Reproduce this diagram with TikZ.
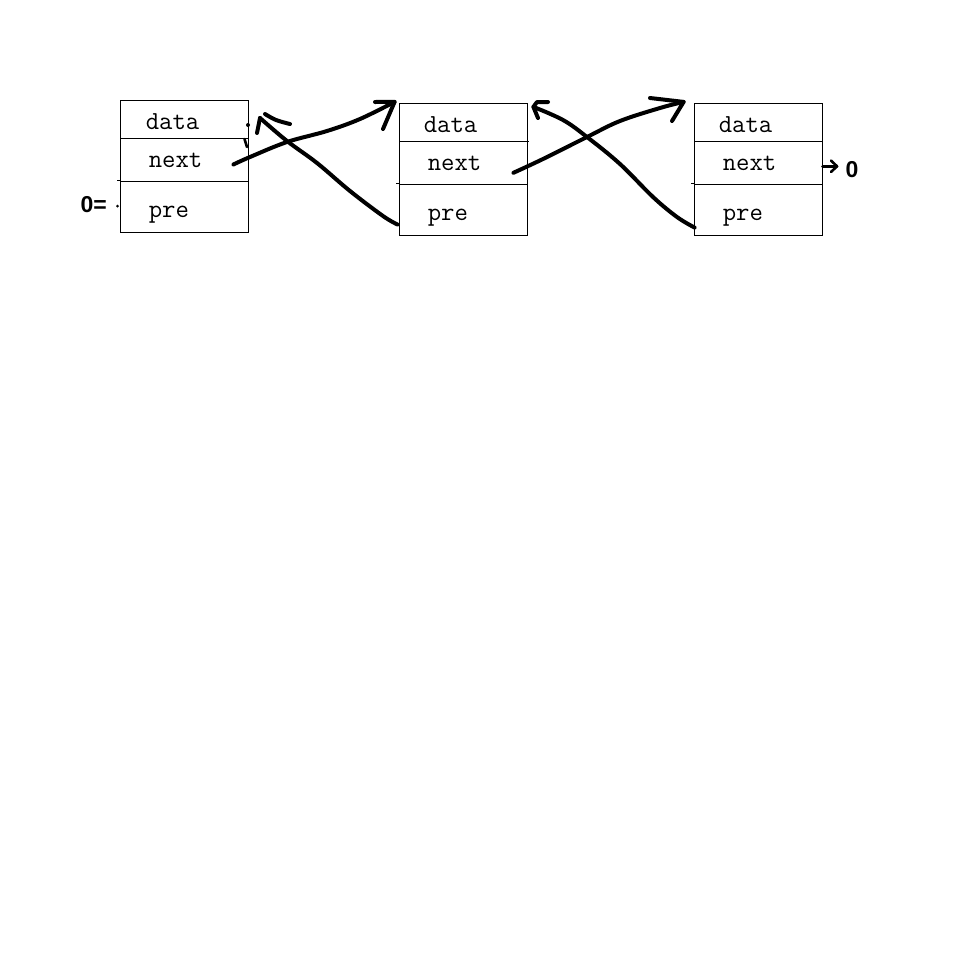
\documentclass[tikz,border=0pt]{standalone}
\usepackage{fontspec}
\newfontfamily\handfont{Liberation Sans}
\usetikzlibrary{calc}
\begin{document}
\begin{tikzpicture}[x=1pt,y=-1pt,
  cell/.style={draw, line width=0.8pt, minimum width=128pt, inner sep=0pt},
  lbl/.style={anchor=base west, inner sep=0pt, font=\ttfamily\fontsize{26}{26}\selectfont},
  hand/.style={line width=4pt, line cap=round, line join=round},
  thinhand/.style={line width=2.6pt, line cap=round, line join=round},
  handtext/.style={anchor=base west, inner sep=0pt, font=\handfont\bfseries\fontsize{23}{23}\selectfont}]
\fill[white] (0,0) rectangle (962,962);
\useasboundingbox (0,0) rectangle (962,962);

% node 1
\node[cell, minimum height=38pt] (d1) at (184,119) {};
\node[cell, minimum height=43pt] (n1) at (184,159.5) {};
\node[cell, minimum height=51pt] (p1) at (184,206.5) {};
% node 2
\node[cell, minimum height=38pt] (d2) at (463,122.3) {};
\node[cell, minimum height=43pt] (n2) at (463,162.8) {};
\node[cell, minimum height=51pt] (p2) at (463,209.65) {};
% node 3
\node[cell, minimum height=38pt] (d3) at (758,122.3) {};
\node[cell, minimum height=43pt] (n3) at (758,162.8) {};
\node[cell, minimum height=51pt] (p3) at (758,209.65) {};

% divider overhangs
\draw[line width=0.8pt] (p1.north west) -- ++(-3,0);
\draw[line width=0.8pt] (p2.north west) -- ++(-3,0);
\draw[line width=0.8pt] (n2.north east) -- ++(2,0);
\draw[line width=0.8pt] (p3.north west) -- ++(-3,0);

% labels
\node[lbl] (t1d) at ($(d1.north west)+(26,30)$) {data};
\node[lbl] (t1n) at ($(n1.north west)+(29,30)$) {next};
\node[lbl] (t1p) at ($(p1.north west)+(29,37)$) {pre};
\node[lbl] (t2d) at ($(d2.north west)+(25,30)$) {data};
\node[lbl] (t2n) at ($(n2.north west)+(29,30)$) {next};
\node[lbl] (t2p) at ($(p2.north west)+(29,37)$) {pre};
\node[lbl] (t3d) at ($(d3.north west)+(25,30)$) {data};
\node[lbl] (t3n) at ($(n3.north west)+(29,30)$) {next};
\node[lbl] (t3p) at ($(p3.north west)+(29,37)$) {pre};

% arrow 1: next of node 1 -> node 2
\coordinate (a1s) at ($(n1.east)+(-15,5)$);
\coordinate (a1e) at ($(d2.north west)+(-4,-1)$);
\draw[hand] plot[smooth, tension=0.6] coordinates {(a1s) (250,157) (287,142) (327,131) (360,119) (a1e)};
\draw[hand] (375,102) -- (a1e) -- (383,129);

% arrow 2: pre of node 2 -> node 1
\coordinate (a2s) at ($(p2.south west)+(-1,-11)$);
\coordinate (a2e) at (260,118);
\draw[hand] plot[smooth, tension=0.6] coordinates {(a2s) (383,216) (350,191) (317,163) (287,141) (a2e)};
\draw[hand] (257,133) -- (a2e);
\draw[hand] plot[smooth, tension=0.6] coordinates {(265,114) (276,120) (290,124)};

% arrow 3: next of node 2 -> node 3
\coordinate (a3s) at ($(n2.east)+(-14,10)$);
\coordinate (a3e) at ($(d3.north west)+(-10,-1)$);
\draw[hand] plot[smooth, tension=0.6] coordinates {(a3s) (543,159) (587,137) (620,121) (660,108) (a3e)};
\draw[hand] (650,98) -- (a3e) -- (672,121);

% arrow 4: pre of node 3 -> node 2
\coordinate (a4s) at ($(p3.south west)+(1,-8)$);
\coordinate (a4e) at ($(d2.north east)+(6,4)$);
\draw[hand] plot[smooth, tension=0.6] coordinates {(a4s) (677,217) (653,197) (620,164) (587,137) (563,120) (a4e)};
\draw[hand] (548,102) -- (537,102) -- (a4e) -- (538,118);

% small marks at node 1
\fill (248,125) circle (2pt);
\draw[thinhand] (244.5,139) -- (247,147);
\fill (117.5,206) circle (1.5pt);

% left "0="
\node[handtext] (zl) at (80.5,212) {0=};

% right "->0"
\coordinate (zs) at ($(n3.east)+(0,3.5)$);
\node[handtext] (zr) at (845.5,177) {0};
\draw[thinhand] (zs) -- (837,166.3);
\draw[thinhand] (831,160.5) -- (837,166.3) -- (831,172);
\end{tikzpicture}
\end{document}
